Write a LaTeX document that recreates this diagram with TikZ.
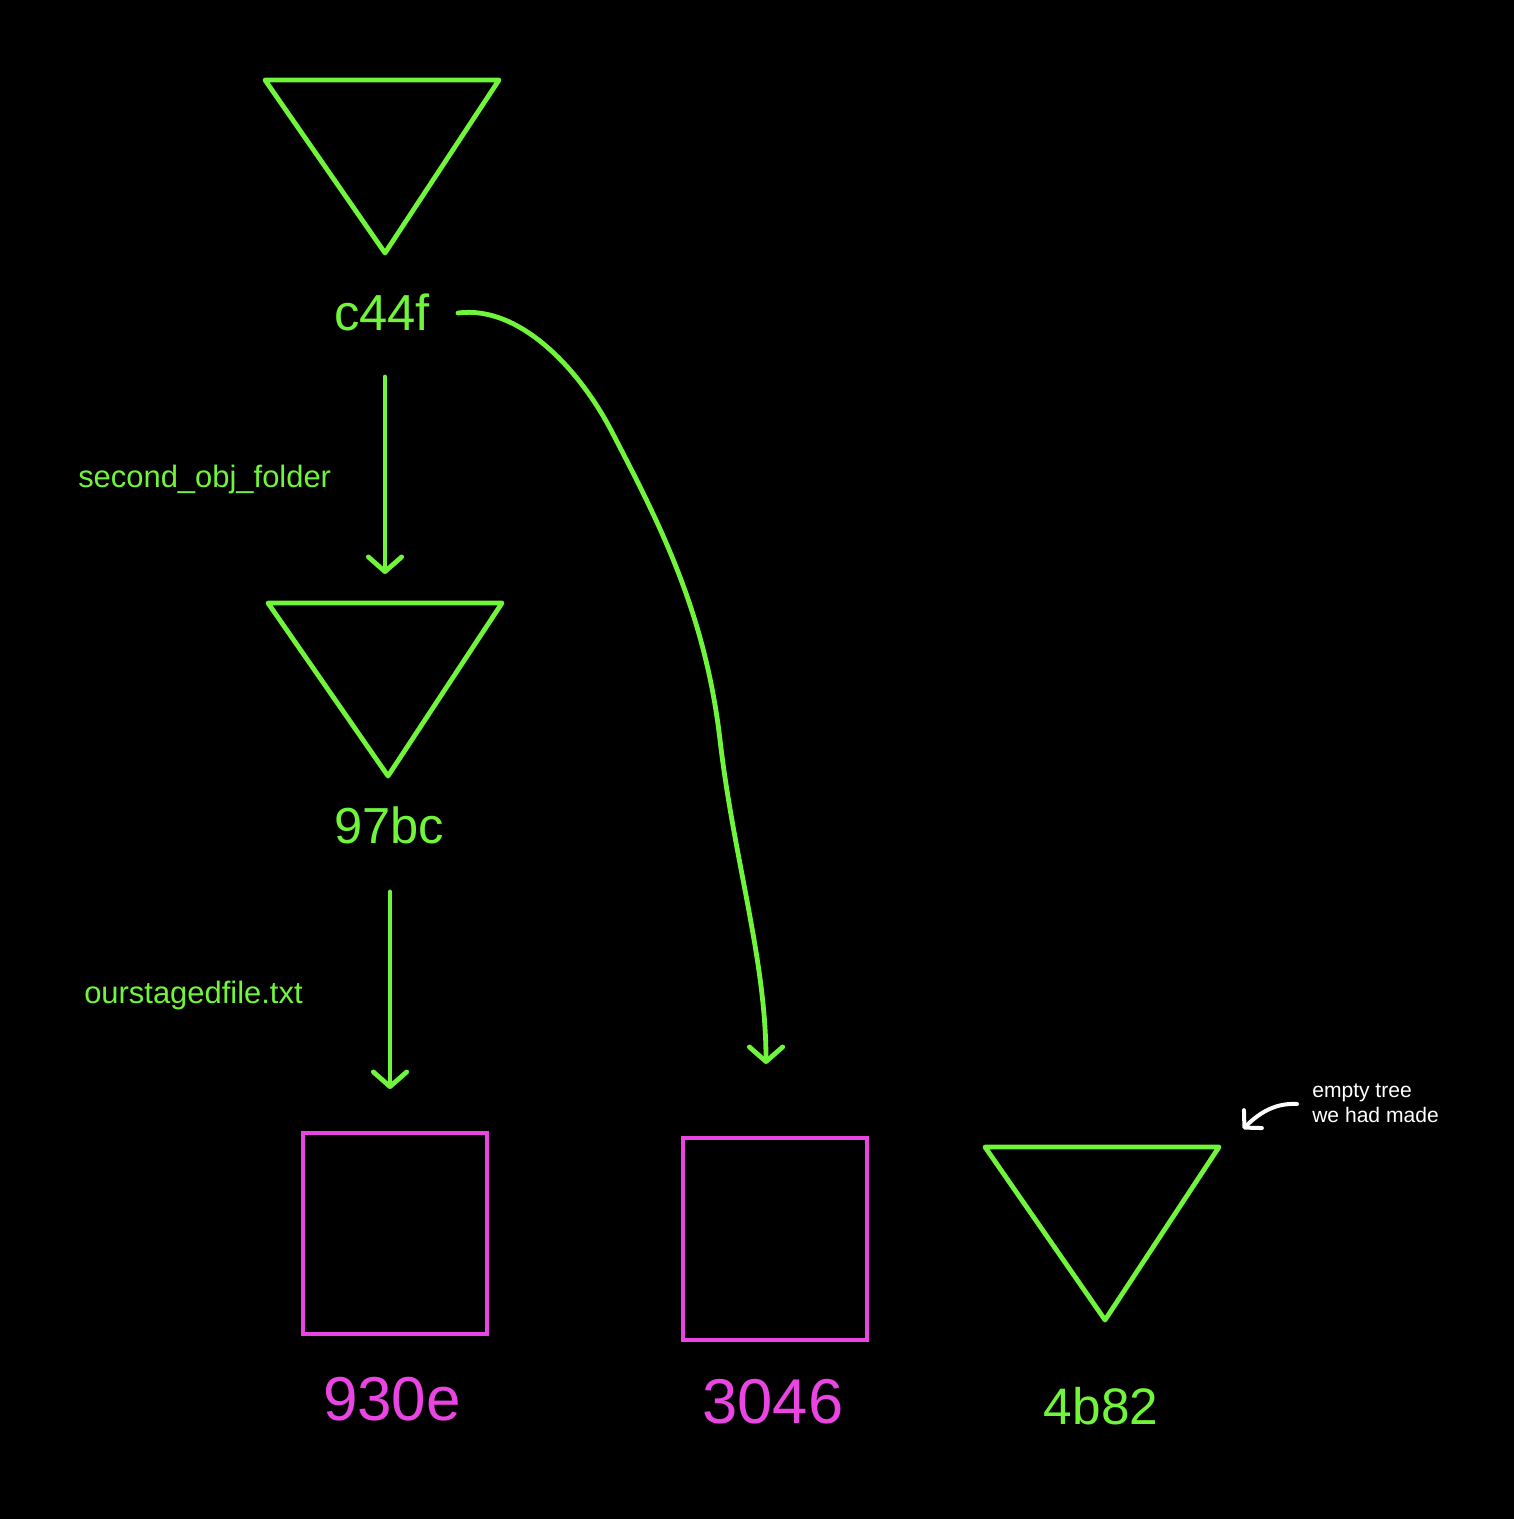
\documentclass[tikz,border=0pt]{standalone}
\usepackage{fontspec}
\setmainfont{Liberation Sans}
\usetikzlibrary{arrows.meta}
\definecolor{treegreen}{RGB}{112,245,58}
\definecolor{blobpink}{RGB}{234,68,226}
\tikzset{
  treeline/.style={draw=treegreen, line width=3.6pt, line join=round},
  blobline/.style={draw=blobpink, line width=3.6pt},
  link/.style={draw=treegreen, line width=3.6pt, line cap=round, -{Straight Barb[length=11pt,width=25pt,round]}},
  hashlabel/.style={inner sep=0pt, anchor=base},
  entrylabel/.style={inner sep=0pt, anchor=base west, text=treegreen, font=\fontsize{23.2}{28}\selectfont},
}
\begin{document}
\begin{tikzpicture}[x=0.75pt,y=0.75pt,yscale=-1,xscale=1]
	\fill [black] (0,0) rectangle (1514,1519) ;
	% trees
	\draw [treeline] (265,80) -- (499,80) -- (385,253) -- cycle ;
	\draw [treeline] (268,603) -- (502,603) -- (388,776) -- cycle ;
	\draw [treeline] (985,1147) -- (1219,1147) -- (1105,1320) -- cycle ;
	% blobs
	\draw [blobline] (303,1133) rectangle (487,1334) ;
	\draw [blobline] (683,1138) rectangle (867,1340) ;
	% hashes
	\draw (382,330) node [hashlabel, text=treegreen, font=\fontsize{38}{46}\selectfont] (c44f) {c44f};
	\draw (389,843) node [hashlabel, text=treegreen, font=\fontsize{38}{46}\selectfont] (97bc) {97bc};
	\draw (392,1420) node [hashlabel, text=blobpink, font=\fontsize{46.5}{56}\selectfont] (930e) {930e};
	\draw (773,1423) node [hashlabel, text=blobpink, font=\fontsize{47.5}{57}\selectfont] (3046) {3046};
	\draw (1101,1424) node [hashlabel, text=treegreen, font=\fontsize{38.5}{46}\selectfont] (4b82) {4b82};
	% entry names
	\draw (78,487) node [entrylabel] (folder) {second\_obj\_folder};
	\draw (84,1003) node [entrylabel] (stagedfile) {ourstagedfile.txt};
	\draw (1312,1122) node [inner sep=0pt, anchor=base west, align=left, text=white, font=\fontsize{15.8}{18.75}\selectfont] (note) {empty tree\\we had made};
	% links
	\coordinate (c44f out) at (385,377) ;
	\coordinate (97bc in) at (385,574) ;
	\coordinate (97bc out) at (390,892) ;
	\coordinate (930e in) at (390,1089) ;
	\coordinate (c44f side) at (458,313) ;
	\coordinate (3046 in) at (766,1064) ;
	\coordinate (note out) at (1297,1104) ;
	\coordinate (4b82 in) at (1243,1129) ;
	\draw [link] (c44f out) -- (97bc in) ;
	\draw [link] (97bc out) -- (930e in) ;
	\draw [link] (c44f side) .. controls (520,305) and (580,370) .. (612,432) .. controls (657,519) and (705,610) .. (720,740) .. controls (734,860) and (766,960) .. (3046 in) ;
	\draw [white, line width=3pt, line cap=round, -{Straight Barb[length=9pt,width=19pt,round]}] (note out) .. controls (1278,1103) and (1262,1110) .. (4b82 in) ;
\end{tikzpicture}
\end{document}
